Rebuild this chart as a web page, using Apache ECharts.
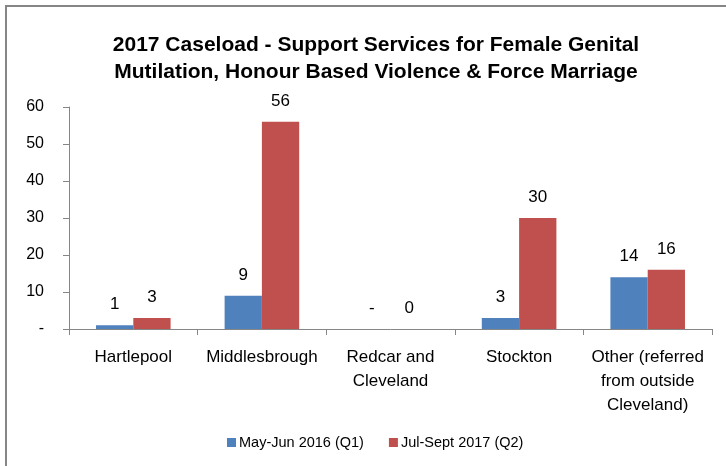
<!DOCTYPE html>
<html><head><meta charset="utf-8">
<script src="https://cdn.jsdelivr.net/npm/echarts@6/dist/echarts.min.js"></script>
<style>html,body{margin:0;padding:0;background:#fff}#c{width:726px;height:466px}</style>
</head><body><div id="c"></div>
<script>
const categories = ['Hartlepool', 'Middlesbrough', 'Redcar and\nCleveland', 'Stockton', 'Other (referred\nfrom outside\nCleveland)'];
const seriesNames = ['May-Jun 2016 (Q1)', 'Jul-Sept 2017 (Q2)'];
const q1Values = [1, 9, 0, 3, 14];
const q2Values = [3, 56, 0, 30, 16];
const yTicks = [0, 10, 20, 30, 40, 50, 60];
const titleText = '2017 Caseload - Support Services for Female Genital\nMutilation, Honour Based Violence & Force Marriage';

const FONT = '"Liberation Sans", sans-serif';
const chart = echarts.init(document.getElementById('c'), null, {renderer: 'canvas'});
chart.setOption({
  animation: false,
  textStyle: {fontFamily: FONT},
  title: {
    text: titleText, left: 371, textAlign: 'center', top: 27,
    textStyle: {fontFamily: FONT, fontWeight: 'bold', fontSize: 21, lineHeight: 27, color: '#000'}
  },
  graphic: [{type: 'rect', shape: {x: 6, y: 6, width: 730, height: 470}, style: {fill: 'none', stroke: '#868686', lineWidth: 2}, silent: true}],
  legend: {
    bottom: 11, left: 222, itemWidth: 9, itemHeight: 9, itemGap: 25, icon: 'rect',
    textStyle: {fontFamily: FONT, fontSize: 14.5, color: '#000', padding: [0, 0, 0, -2]},
    data: seriesNames
  },
  grid: {left: 69, right: 14, top: 107, bottom: 137, containLabel: false},
  xAxis: {
    type: 'category', data: categories,
    axisLine: {lineStyle: {color: '#868686'}},
    axisTick: {show: true, length: 6, lineStyle: {color: '#868686'}},
    axisLabel: {fontFamily: FONT, fontSize: 17, color: '#000', lineHeight: 24, margin: 16, interval: 0}
  },
  yAxis: {
    type: 'value', min: 0, max: 60, interval: 10,
    splitLine: {show: false},
    axisLine: {show: true, lineStyle: {color: '#868686'}},
    axisTick: {show: true, length: 6, inside: false, lineStyle: {color: '#868686'}},
    axisLabel: {fontFamily: FONT, fontSize: 16, color: '#000', margin: 25,
      formatter: v => (yTicks.includes(v) ? (v === 0 ? '-' : String(v)) : '')}
  },
  series: [
    {name: seriesNames[0], type: 'bar', data: q1Values, barGap: '0%', barCategoryGap: '42%',
     itemStyle: {color: '#4F81BD'},
     label: {show: true, position: 'top', distance: 12, fontFamily: FONT, fontSize: 17, color: '#000',
       formatter: p => (p.value === 0 ? '-' : String(p.value))}},
    {name: seriesNames[1], type: 'bar', data: q2Values, barGap: '0%', barCategoryGap: '42%',
     itemStyle: {color: '#C0504D'},
     label: {show: true, position: 'top', distance: 12, fontFamily: FONT, fontSize: 17, color: '#000'}}
  ]
});
</script></body></html>
